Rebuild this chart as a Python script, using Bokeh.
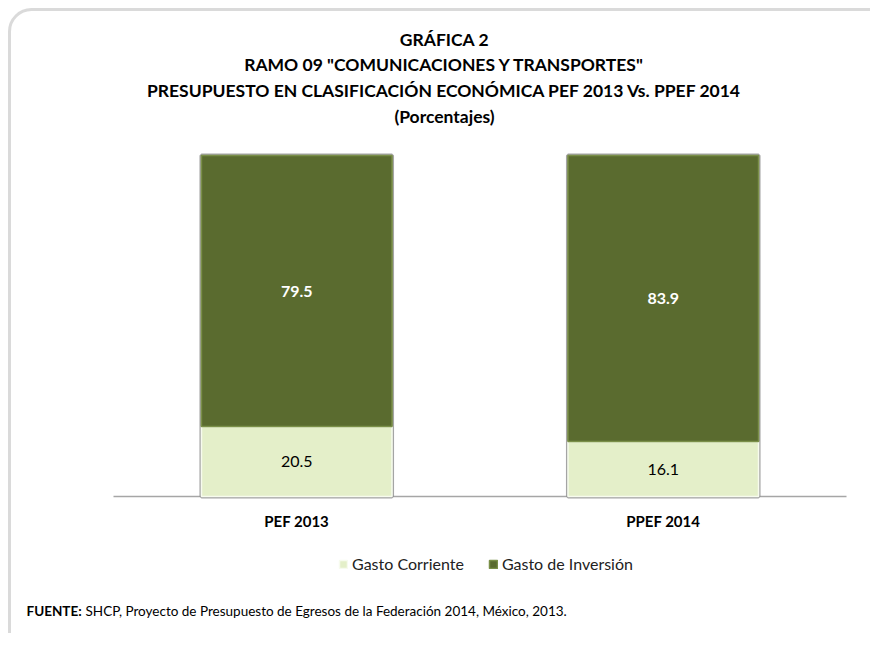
from bokeh.plotting import figure
from bokeh.models import (ColumnDataSource, Range1d, Label, LabelSet,
                          Legend, LegendItem, BoxAnnotation)
from bokeh.core.properties import value
from bokeh.embed import file_html
from bokeh.resources import INLINE

# ---- data ----
categories = ["PEF 2013", "PPEF 2014"]
gasto_corriente = [20.5, 16.1]
gasto_inversion = [79.5, 83.9]
series_names = ["Gasto Corriente", "Gasto de Inversión"]
title_lines = ["GRÁFICA 2",
               'RAMO 09 "COMUNICACIONES Y TRANSPORTES"',
               "PRESUPUESTO EN CLASIFICACIÓN ECONÓMICA PEF 2013 Vs. PPEF 2014",
               "(Porcentajes)"]
fuente_bold = "FUENTE:"
fuente_text = "SHCP, Proyecto de Presupuesto de Egresos de la Federación 2014, México, 2013."

FONT = "Lato"
W, H = 870, 633
# plot region (pixels) inside the canvas
PL, PR, PT, PB = 113, 846, 155, 496
n = len(categories)
px_per_x = (PR - PL) / n
px_per_y = (PB - PT) / 100.0
x_range = Range1d(-PL / px_per_x, n + (W - PR) / px_per_x)
y_range = Range1d(-(H - PB) / px_per_y, PB / px_per_y)

xs = [i + 0.5 for i in range(n)]
src = ColumnDataSource(dict(
    x=xs,
    cat=categories,
    corr=gasto_corriente,
    total=[a + b for a, b in zip(gasto_corriente, gasto_inversion)],
    corr_mid=[a / 2 for a in gasto_corriente],
    inv_mid=[a + b / 2 for a, b in zip(gasto_corriente, gasto_inversion)],
    corr_lbl=[f"{v:.1f}" for v in gasto_corriente],
    inv_lbl=[f"{v:.1f}" for v in gasto_inversion],
    zero=[0] * n,
))

p = figure(width=W, height=H, x_range=x_range, y_range=y_range,
           x_axis_type=None, y_axis_type=None,
           output_backend="svg", toolbar_location=None,
           min_border=0, min_border_left=0, min_border_right=0,
           min_border_top=0, min_border_bottom=0)
p.outline_line_color = None
p.grid.visible = False
p.background_fill_color = "white"
p.border_fill_color = "white"

# category axis line
p.segment(x0=0, x1=n, y0=0, y1=0, line_color="#a6a6a6", line_width=1.5)

BW = 0.52
# shadow
p.vbar(x="x", top="total", bottom=0, width=BW, source=src,
       fill_color="#8f8f8f", line_color="#8f8f8f", line_width=4, alpha=0.8)
r_corr = p.vbar(x="x", top="corr", bottom=0, width=BW, source=src,
                fill_color="#e4efc9", line_color="#f7fbee", line_width=1.5)
r_inv = p.vbar(x="x", top="total", bottom="corr", width=BW, source=src,
               fill_color="#5a6b2f", line_color="#7a8f48", line_width=1.5)

# category labels
p.text(x="x", y="zero", text="cat", source=src, y_offset=24,
       text_align="center", text_baseline="middle",
       text_font=value(FONT), text_font_style="bold",
       text_font_size="15px", text_color="#000000")

p.add_layout(LabelSet(x="x", y="corr_mid", text="corr_lbl", source=src,
                      text_align="center", text_baseline="middle",
                      text_font=value(FONT), text_font_size="16px", text_color="#000000"))
p.add_layout(LabelSet(x="x", y="inv_mid", text="inv_lbl", source=src,
                      text_align="center", text_baseline="middle",
                      text_font=value(FONT), text_font_size="16px", text_font_style="bold",
                      text_color="#ffffff"))

# titles (screen units, y up from bottom of canvas)
title_cy = [39, 64, 90, 116]
for t, cy in zip(title_lines, title_cy):
    p.add_layout(Label(x=444, y=H - cy, x_units="screen", y_units="screen", text=t,
                       text_align="center", text_baseline="middle",
                       text_font=FONT, text_font_style="bold",
                       text_font_size="17.5px", text_color="#000000"))

legend = Legend(items=[LegendItem(label=series_names[0], renderers=[r_corr]),
                       LegendItem(label=series_names[1], renderers=[r_inv])],
                orientation="horizontal", location=(338, H - 573),
                glyph_width=10, glyph_height=10, label_standoff=4, spacing=24,
                padding=0, margin=0, border_line_color=None,
                background_fill_alpha=0, label_text_font=FONT,
                label_text_font_size="16px", label_text_color="#222222")
p.add_layout(legend, "center")

p.add_layout(Label(x=26, y=H - 610, x_units="screen", y_units="screen", text=fuente_bold,
                   text_baseline="middle", text_font=FONT, text_font_style="bold",
                   text_font_size="13.5px", text_color="#000000"))
p.add_layout(Label(x=85, y=H - 610, x_units="screen", y_units="screen", text=fuente_text,
                   text_baseline="middle", text_font=FONT,
                   text_font_size="13.5px", text_color="#000000"))

p.add_layout(BoxAnnotation(left=9, right=900, top=9, bottom=662,
                           left_units="canvas", right_units="canvas",
                           top_units="canvas", bottom_units="canvas",
                           fill_color=None, fill_alpha=0,
                           line_color="#858585", line_width=3,
                           border_radius=22))

open("out.html", "w").write(file_html(p, INLINE))
